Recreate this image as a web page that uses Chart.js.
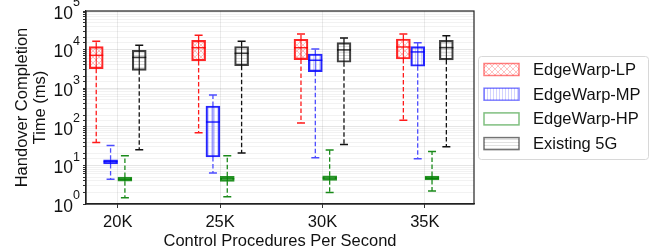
<!DOCTYPE html>
<html>
<head>
<meta charset="utf-8">
<script src="https://cdn.jsdelivr.net/npm/chart.js@4.4.1/dist/chart.umd.min.js"></script>
<style>
  html, body { margin: 0; background: #fff; }
</style>
</head>
<body>
<canvas id="boxChart" width="658" height="252"></canvas>
<script>
// categorias del eje x
const categories = ['20K', '25K', '30K', '35K'];
const seriesNames = ['EdgeWarp-LP', 'EdgeWarp-MP', 'EdgeWarp-HP', 'Existing 5G'];

// [min, q1, mediana, q3, max] por categoria (ms)
const lpStats = [[39, 3200, 7100, 11900, 16400], [70, 5100, 11200, 17400, 23400], [125, 5500, 11200, 18500, 25300], [148, 5700, 11700, 18800, 25300]];
const mpStats = [[4.4, 10.9, 12.5, 14, 33], [6.4, 16.5, 133, 346, 670], [15.8, 2680, 5300, 7700, 10400], [14.9, 3700, 8700, 11900, 15100]];
const hpStats = [[1.46, 3.9, 4.4, 5.0, 17.8], [1.55, 3.87, 4.5, 5.2, 17.8], [2.0, 4.1, 4.7, 5.4, 25], [2.17, 4.2, 4.7, 5.3, 23]];
const fiveGStats = [[25.5, 2900, 6300, 9600, 12900], [21, 3830, 8000, 12000, 16400], [35, 4700, 9800, 15100, 20000], [30.5, 5400, 11200, 17400, 23000]];

const yTickExponents = [0, 1, 2, 3, 4, 5];

const FONT = "'Liberation Sans', Arial, sans-serif";

// patrones de sombreado (hatch)
function makePattern(kind, color) {
    const size = kind === 'cross' ? 6 : 3;
    const c = document.createElement('canvas');
    c.width = size;
    c.height = size;
    const p = c.getContext('2d');
    p.strokeStyle = color;
    p.lineWidth = 0.8;
    p.beginPath();
    if (kind === 'cross') {
        p.moveTo(0, 0); p.lineTo(size, size);
        p.moveTo(size, 0); p.lineTo(0, size);
    } else if (kind === 'vert') {
        p.moveTo(1.5, 0); p.lineTo(1.5, size);
    } else if (kind === 'horiz') {
        p.moveTo(0, 1.5); p.lineTo(size, 1.5);
    }
    p.stroke();
    return p.createPattern(c, 'repeat');
}

const series = [
    { stats: lpStats, offset: -0.21, edge: 'rgba(255,0,0,0.85)', whisker: '#ff1a1a', legendEdge: 'rgba(255,0,0,0.5)', fill: makePattern('cross', 'rgba(255,0,0,0.3)'), legendFill: null },
    { stats: mpStats, offset: -0.07, edge: 'rgba(0,0,255,0.85)', whisker: '#4d4dff', legendEdge: 'rgba(0,0,255,0.5)', fill: makePattern('vert', 'rgba(0,0,255,0.22)'), legendFill: null },
    { stats: hpStats, offset: 0.07, edge: 'rgba(0,128,0,0.85)', whisker: '#1a8a1a', legendEdge: 'rgba(0,128,0,0.5)', fill: 'rgba(0,128,0,0.18)', legendFill: '#fff' },
    { stats: fiveGStats, offset: 0.21, edge: 'rgba(0,0,0,0.75)', whisker: '#111', legendEdge: 'rgba(0,0,0,0.55)', fill: makePattern('horiz', 'rgba(0,0,0,0.15)'), legendFill: null }
];

const datasets = series.map((s, k) => ({
    label: seriesNames[k],
    data: s.stats.map((st, i) => ({ x: i + 1 + s.offset, y: [st[1], st[3]] })),
    backgroundColor: s.fill,
    borderColor: s.edge,
    borderWidth: 1.5,
    borderSkipped: false,
    barThickness: 14,
    grouped: false
}));

const boxParts = {
    id: 'boxParts',
    beforeDatasetsDraw(chart) {
        const { ctx, chartArea, scales: { x, y } } = chart;
        ctx.save();
        ctx.beginPath();
        ctx.rect(chartArea.left, chartArea.top, chartArea.width, chartArea.height);
        ctx.clip();
        series.forEach((s) => {
            s.stats.forEach((st, i) => {
                const px = x.getPixelForValue(i + 1 + s.offset);
                ctx.strokeStyle = s.whisker;
                ctx.lineWidth = 1.3;
                ctx.setLineDash([4.5, 2.5]);
                ctx.beginPath();
                ctx.moveTo(px, y.getPixelForValue(st[3]));
                ctx.lineTo(px, y.getPixelForValue(st[4]));
                ctx.moveTo(px, y.getPixelForValue(st[1]));
                ctx.lineTo(px, y.getPixelForValue(st[0]));
                ctx.stroke();
                ctx.setLineDash([]);
                ctx.lineWidth = 1;
                ctx.beginPath();
                ctx.moveTo(px, y.getPixelForValue(st[1]));
                ctx.lineTo(px, y.getPixelForValue(st[3]));
                ctx.stroke();
            });
        });
        ctx.restore();
    },
    afterDatasetsDraw(chart) {
        const { ctx, scales: { x, y } } = chart;
        ctx.save();
        series.forEach((s) => {
            s.stats.forEach((st, i) => {
                const px = x.getPixelForValue(i + 1 + s.offset);
                ctx.strokeStyle = s.whisker;
                ctx.lineWidth = 1.5;
                ctx.beginPath();
                [st[0], st[4]].forEach((v) => {
                    const py = y.getPixelForValue(v);
                    ctx.moveTo(px - 4, py);
                    ctx.lineTo(px + 4, py);
                });
                ctx.stroke();
                ctx.strokeStyle = s.edge;
                ctx.beginPath();
                const pm = y.getPixelForValue(st[2]);
                ctx.moveTo(px - 7, pm);
                ctx.lineTo(px + 7, pm);
                ctx.stroke();
            });
        });
        ctx.restore();
    },
    afterDraw(chart) {
        const { ctx, chartArea, scales: { y } } = chart;
        ctx.save();
        // marco completo
        ctx.strokeStyle = '#222';
        ctx.lineWidth = 1.2;
        ctx.strokeRect(chartArea.left, chartArea.top, chartArea.width, chartArea.height);

        // etiquetas 10^n
        ctx.fillStyle = '#111';
        ctx.textAlign = 'right';
        ctx.textBaseline = 'middle';
        yTickExponents.forEach((e) => {
            const py = y.getPixelForValue(Math.pow(10, e));
            ctx.font = '12.5px ' + FONT;
            const expW = ctx.measureText(String(e)).width;
            ctx.fillText(String(e), 80, py - 8);
            ctx.font = '17.5px ' + FONT;
            ctx.fillText('10', 80 - expW, py + 3);
        });

        // leyenda
        const lx = 478, ly = 56, lw = 170, lh = 103;
        ctx.fillStyle = 'rgba(255,255,255,0.9)';
        ctx.strokeStyle = '#d8d8d8';
        ctx.lineWidth = 1;
        ctx.beginPath();
        ctx.roundRect(lx + 0.5, ly + 0.5, lw, lh, 3);
        ctx.fill();
        ctx.stroke();
        ctx.font = '16.5px ' + FONT;
        ctx.textAlign = 'left';
        ctx.textBaseline = 'middle';
        series.forEach((s, k) => {
            const cy = 69.5 + k * 24.7;
            ctx.fillStyle = s.legendFill || s.fill;
            ctx.fillRect(484, cy - 6, 35, 12);
            ctx.strokeStyle = s.legendEdge;
            ctx.lineWidth = 1.5;
            ctx.strokeRect(484, cy - 6, 35, 12);
            ctx.fillStyle = '#111';
            ctx.fillText(seriesNames[k], 533, cy + 1);
        });
        ctx.restore();
    }
};

const chart = new Chart(document.getElementById('boxChart'), {
    type: 'bar',
    data: { datasets },
    options: {
        responsive: false,
        animation: false,
        layout: { padding: { left: 0, top: 11, right: 184, bottom: 0 } },
        plugins: {
            legend: { display: false },
            tooltip: { enabled: false }
        },
        scales: {
            x: {
                type: 'linear',
                min: 0.69,
                max: 4.48,
                offset: false,
                afterBuildTicks: (s) => { s.ticks = categories.map((c, i) => ({ value: i + 1 })); },
                afterFit: (s) => { s.height = 48; },
                ticks: {
                    callback: (v) => categories[v - 1] || '',
                    color: '#111',
                    font: { family: FONT, size: 16.5 },
                    padding: 5,
                    maxRotation: 0
                },
                grid: { offset: false, color: 'rgba(0,0,0,0.08)', tickColor: '#333', tickLength: 4 },
                border: { display: true, color: '#222', width: 1.2 },
                title: {
                    display: true,
                    text: 'Control Procedures Per Second',
                    color: '#111',
                    font: { family: FONT, size: 16.5 },
                    padding: { top: 0, bottom: 1 }
                }
            },
            y: {
                type: 'logarithmic',
                min: 1,
                max: 100000,
                afterFit: (s) => { s.width = 86; },
                ticks: { display: false, autoSkip: false },
                grid: {
                    color: (c) => (c.tick && c.tick.major ? 'rgba(0,0,0,0.1)' : 'rgba(0,0,0,0.05)'),
                    tickColor: '#333',
                    tickLength: 3
                },
                border: { display: true, color: '#222', width: 1.2 },
                title: {
                    display: true,
                    text: ['Handover Completion', 'Time (ms)'],
                    color: '#111',
                    font: { family: FONT, size: 16.5, lineHeight: 1.1 },
                    padding: { top: 13, bottom: 0 }
                }
            }
        }
    },
    plugins: [boxParts]
});
</script>
</body>
</html>
